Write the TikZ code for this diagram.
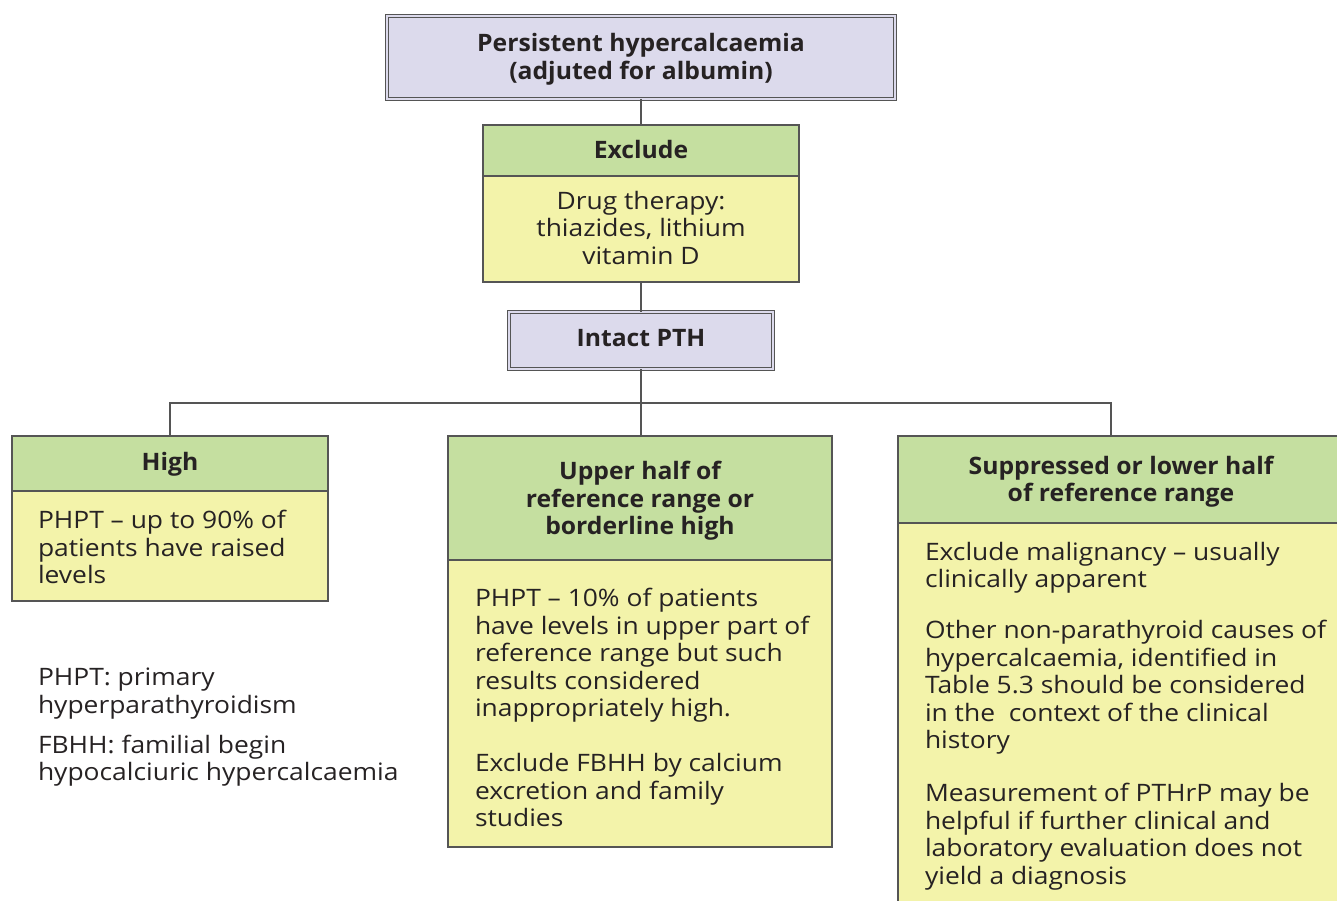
\documentclass[tikz,border=0pt]{standalone}
\usepackage{fontspec}
\setmainfont{Open Sans}[FakeStretch=1.03]
\newfontfamily\bodyfont{Open Sans}[FakeStretch=1.1, Ligatures=TeX]
\definecolor{lav}{HTML}{DCDAEC}
\definecolor{grn}{HTML}{C5DFA0}
\definecolor{yel}{HTML}{F3F3AA}
\definecolor{linec}{HTML}{555555}
\definecolor{textc}{HTML}{262223}
\begin{document}
\begin{tikzpicture}[x=1pt,y=-1pt,
  box/.style={draw=linec, line width=1.3pt, inner sep=0pt, outer sep=0pt, anchor=north west},
  dbl/.style={box, fill=lav, line width=1.1pt, double=lav, double distance=2.4pt},
  hdr/.style={box, fill=grn},
  body/.style={box, fill=yel},
  txt/.style={font=\bodyfont\fontsize{24}{27.5}\selectfont, text=textc, inner sep=0pt, outer sep=0pt},
  btxt/.style={font=\fontsize{24}{27.5}\selectfont\bfseries, text=textc, inner sep=0pt, outer sep=0pt},
  conn/.style={draw=linec, line width=1.3pt}]
\useasboundingbox (0,0) rectangle (1337,901);
\clip (0,0) rectangle (1337,901);

% top
\node[dbl, minimum width=508pt, minimum height=83pt] (top) at (387,16) {};
\node[btxt, align=center, anchor=base] (topt) at (641,79.5) {Persistent hypercalcaemia\\(adjuted for albumin)};

% exclude
\node[hdr, minimum width=316pt, minimum height=51pt] (exh) at (483,125) {};
\node[body, minimum width=316pt, minimum height=106pt] (exb) at (483,176) {};
\node[btxt, anchor=base] (exht) at (641,158.5) {Exclude};
\node[txt, align=center, anchor=base] (exbt) at (641,264.5) {Drug therapy:\\thiazides, lithium\\vitamin D};

% intact PTH
\node[dbl, minimum width=264pt, minimum height=57pt] (pth) at (509,312) {};
\node[btxt, anchor=base] (ptht) at (641,346.5) {Intact PTH};

% high
\node[hdr, minimum width=316pt, minimum height=55pt] (hih) at (12,436) {};
\node[body, minimum width=316pt, minimum height=110pt] (hib) at (12,491) {};
\node[btxt, anchor=base] (hiht) at (170,470.5) {High};
\node[txt, align=left, anchor=base west] (hibt) at (38,583.5) {PHPT – up to 90\% of\\patients have raised\\levels};

% middle
\node[hdr, minimum width=384pt, minimum height=124pt] (mih) at (448,436) {};
\node[body, minimum width=384pt, minimum height=287pt] (mib) at (448,560) {};
\node[btxt, align=center, anchor=base] (miht) at (640,534.5) {Upper half of\\reference range or\\borderline high};
\node[txt, align=left, anchor=base west] (mibt1) at (475,716.5) {PHPT – 10\% of patients\\have levels in upper part of\\reference range but such\\results considered\\inappropriately high.};
\node[txt, align=left, anchor=base west] (mibt2) at (475,826.5) {Exclude FBHH by calcium\\excretion and family\\studies};

% right
\node[hdr, minimum width=446pt, minimum height=87pt] (rih) at (898,436) {};
\node[body, minimum width=446pt, minimum height=400pt] (rib) at (898,523) {};
\node[btxt, align=center, anchor=base] (riht) at (1121,501.5) {Suppressed or lower half\\of reference range};
\node[txt, align=left, anchor=base west] (ribt1) at (925,587.5) {Exclude malignancy – usually\\clinically apparent};
\node[txt, align=left, anchor=base west] (ribt2) at (925,748.5) {Other non-parathyroid causes of\\hypercalcaemia, identified in\\Table 5.3 should be considered\\in the\ \ context of the clinical\\history};
\node[txt, align=left, anchor=base west] (ribt3) at (925,884) {Measurement of PTHrP may be\\helpful if further clinical and\\laboratory evaluation does not\\yield a diagnosis};

% legend
\node[txt, align=left, anchor=base west] (leg1) at (38,713) {PHPT: primary\\hyperparathyroidism};
\node[txt, align=left, anchor=base west] (leg2) at (38,780.5) {FBHH: familial begin\\hypocalciuric hypercalcaemia};

% connectors
\coordinate (split) at (641,403);
\draw[conn] (top.south) -- (exh.north);
\draw[conn] (exb.south) -- (pth.north);
\draw[conn] (pth.south) -- (split);
\draw[conn] (hih.north) |- (split);
\draw[conn] (split) -- (split |- mih.north);
\draw[conn] (1111,436) |- (split);
\end{tikzpicture}
\end{document}
